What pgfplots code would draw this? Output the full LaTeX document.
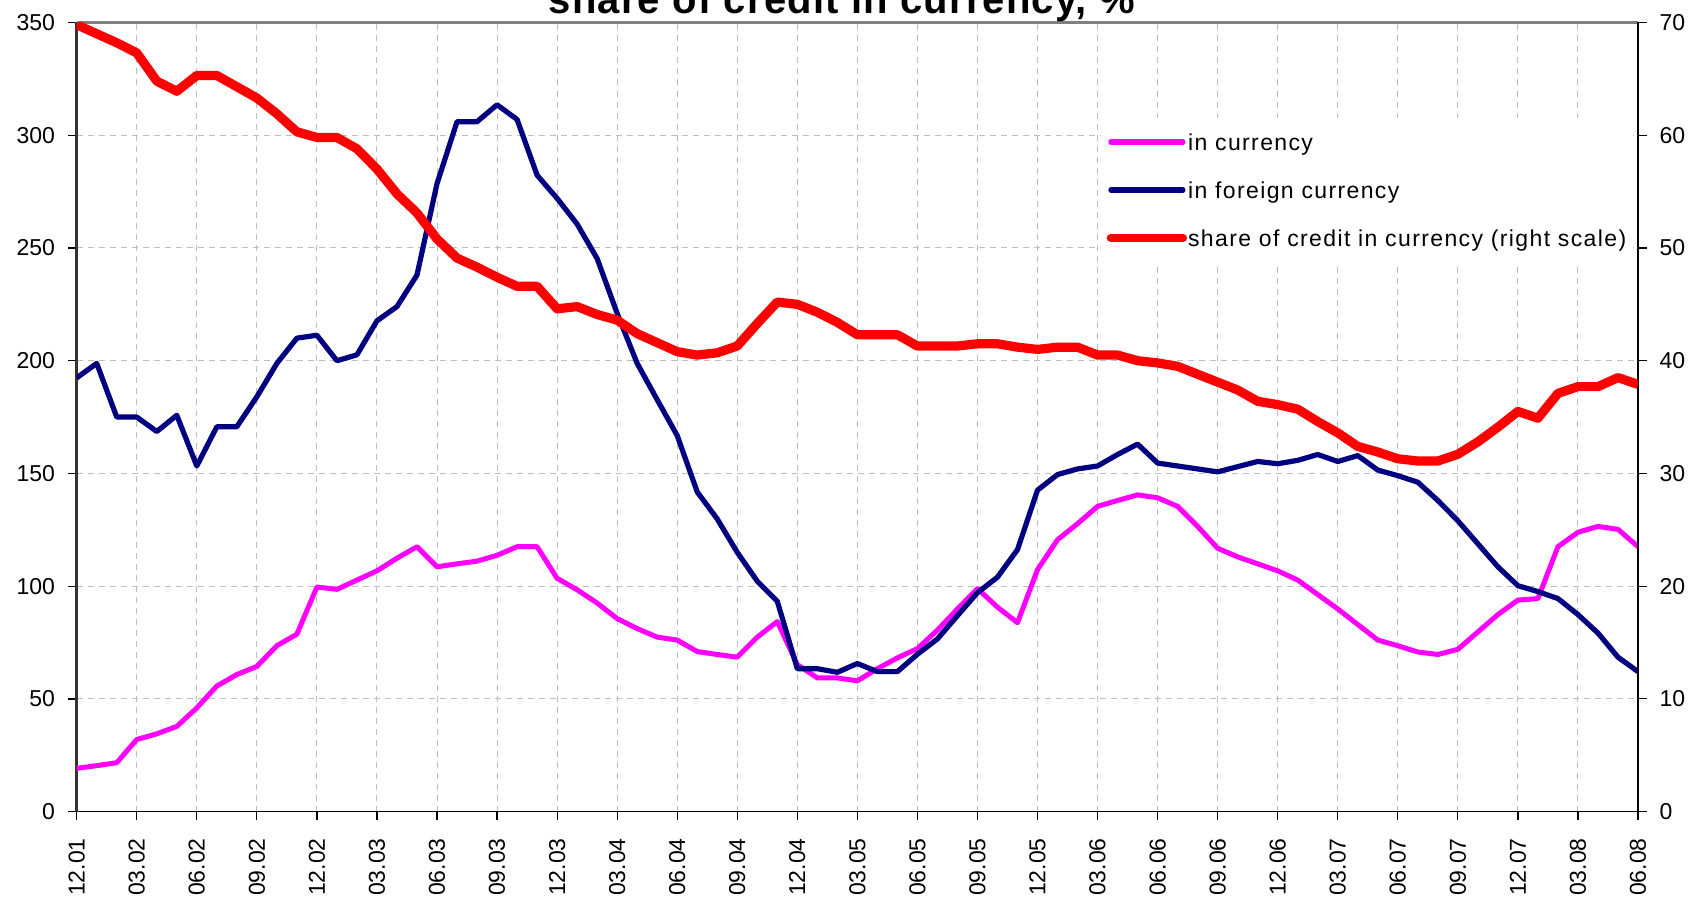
\documentclass[border=0pt]{standalone}
\usepackage{fontspec}
\setmainfont{Liberation Sans}
\usepackage{pgfplots}
\pgfplotsset{compat=1.18}
\usepackage{pgfplotstable}

\definecolor{curpink}{RGB}{255,0,255}
\definecolor{fgnnavy}{RGB}{0,0,128}
\definecolor{sharered}{RGB}{255,0,0}
\definecolor{gridgray}{RGB}{190,190,190}

% month index (0 = 12.01), credit in currency, in foreign currency, share (%)
\pgfplotstableread{
i cur fgn share
0 19.2 192.4 69.8
1 20.4 198.8 69.0
2 21.7 175.0 68.2
3 32.0 175.0 67.3
4 34.5 168.6 64.8
5 37.8 175.8 63.9
6 46.0 153.3 65.3
7 55.7 170.7 65.3
8 60.8 170.7 64.3
9 64.4 184.0 63.3
10 73.6 198.8 61.9
11 78.7 210.0 60.3
12 99.6 211.3 59.8
13 98.6 200.0 59.8
14 102.7 202.6 58.8
15 106.8 217.7 57.0
16 112.4 224.0 54.8
17 117.5 238.0 53.1
18 108.6 278.5 50.8
19 109.9 306.0 49.1
20 111.1 306.0 48.3
21 113.7 313.5 47.4
22 117.5 307.0 46.6
23 117.5 282.3 46.6
24 103.5 272.0 44.6
25 98.4 260.6 44.8
26 92.5 245.3 44.1
27 85.6 221.0 43.6
28 81.2 198.8 42.4
29 77.4 182.7 41.6
30 76.1 166.8 40.8
31 71.0 141.8 40.5
32 69.7 129.8 40.7
33 68.5 115.0 41.3
34 77.4 102.2 43.3
35 84.3 93.3 45.2
36 65.2 63.4 45.0
37 59.3 63.4 44.3
38 59.3 61.8 43.4
39 58.0 65.7 42.3
40 63.4 62.1 42.3
41 68.2 62.1 42.3
42 72.3 69.8 41.3
43 80.5 76.6 41.3
44 89.9 86.9 41.3
45 98.9 97.1 41.5
46 90.7 104.0 41.5
47 83.8 116.2 41.2
48 107.3 142.6 41.0
49 120.6 149.5 41.2
50 127.7 152.0 41.2
51 135.4 153.3 40.5
52 138.0 158.4 40.5
53 140.5 163.0 40.0
54 139.2 154.6 39.8
55 135.4 153.3 39.5
56 126.5 152.0 38.8
57 116.8 150.7 38.1
58 113.0 153.0 37.4
59 109.9 155.3 36.4
60 106.8 154.3 36.1
61 102.7 155.8 35.7
62 96.3 158.4 34.6
63 89.9 155.3 33.6
64 83.0 157.9 32.4
65 76.1 151.5 31.9
66 73.6 149.0 31.3
67 70.8 146.1 31.1
68 69.7 138.0 31.1
69 72.0 129.0 31.7
70 79.7 118.8 32.8
71 87.4 108.6 34.1
72 93.8 100.2 35.5
73 94.5 97.6 34.9
74 117.5 94.5 37.1
75 123.9 87.4 37.7
76 126.5 79.2 37.7
77 125.2 68.5 38.5
78 117.5 62.1 37.9
}\credit

\pgfplotsset{
  base/.style={
    scale only axis, width=780.5pt, height=394.5pt,
    xmin=0, xmax=78,
    /pgf/number format/assume math mode=true,
    tick label style={font=\fontsize{11.5}{13}\selectfont},
    tick align=outside, major tick length=4.3pt,
    tick style={black, line width=0.6pt},
  },
}

\begin{document}
\begin{tikzpicture}
\begin{axis}[base, name=ax,
  ymin=0, ymax=350, ytick={0,50,...,350},
  axis x line*=bottom, axis y line*=left,
  x axis line style={black, line width=0.75pt, -},
  y axis line style={black!80, line width=1.3pt, -},
  xtick={0,3,...,78},
  xticklabels={12.01,03.02,06.02,09.02,12.02,03.03,06.03,09.03,12.03,03.04,06.04,09.04,12.04,03.05,06.05,09.05,12.05,03.06,06.06,09.06,12.06,03.07,06.07,09.07,12.07,03.08,06.08},
  xticklabel style={rotate=90, anchor=east, xshift=-5.5pt},
  yticklabel style={xshift=-3pt},
  grid=major,
  major grid style={gridgray, dash pattern=on 3pt off 2.5pt, line width=0.5pt},
]
\addplot[curpink, line width=2.5pt, line join=round] table[x=i, y=cur] {\credit};
\addplot[fgnnavy, line width=2.6pt, line join=round] table[x=i, y=fgn] {\credit};
\end{axis}

\draw[gray, line width=1.2pt] (ax.north west) -- (ax.north east);
\node[font=\fontsize{20}{24}\bfseries\addfontfeatures{LetterSpace=3}, anchor=base]
  at ([xshift=-7.8pt, yshift=4.25pt]ax.north) {share of credit in currency, \%};

\begin{axis}[base,
  ymin=0, ymax=70, ytick={0,10,...,70},
  axis x line=none, axis y line*=right,
  y axis line style={black, line width=0.9pt, -},
  yticklabel style={xshift=3pt},
  legend cell align=left,
  legend image code/.code={
    \draw[#1] (0pt,1.2pt) -- (36pt,1.2pt);
  },
  legend style={at={(0.6556,0.879)}, anchor=north west, draw=none, fill=white,
    inner xsep=3pt, inner ysep=7.5pt, row sep=13pt,
    font=\fontsize{11.5}{13}\selectfont\addfontfeatures{LetterSpace=6},
    nodes={inner xsep=0.5pt, inner ysep=0pt, text height=8.5pt, text depth=2.5pt}},
]
\addlegendimage{curpink, line width=2.6pt, line cap=round}
\addlegendentry{in currency}
\addlegendimage{fgnnavy, line width=2.6pt, line cap=round}
\addlegendentry{in foreign currency}
\addplot[sharered, line width=4.6pt, line join=round, legend image post style={line width=4.2pt, line cap=round}] table[x=i, y=share] {\credit};
\addlegendentry{share of credit in currency (right scale)}
\end{axis}

\pgfresetboundingbox
\path[use as bounding box] ([shift={(-38.35pt,-45.5pt)}]ax.south west) rectangle ([shift={(32pt,11.25pt)}]ax.north east);
\end{tikzpicture}
\end{document}
